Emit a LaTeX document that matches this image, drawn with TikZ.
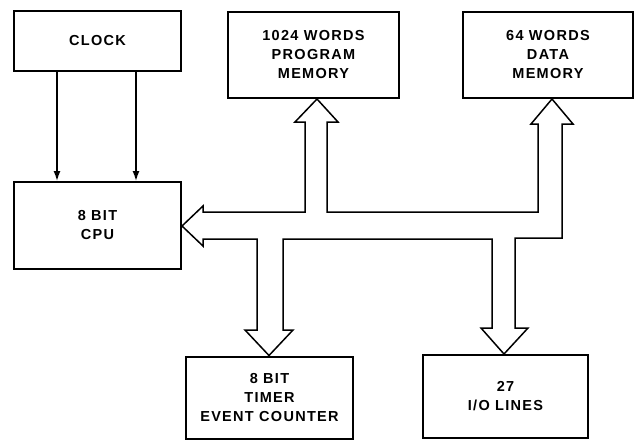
\documentclass[tikz,border=0pt]{standalone}
\usepackage{fontspec}
\setmainfont{Liberation Sans}[LetterSpace=9]
\usetikzlibrary{arrows.meta}
\begin{document}
\begin{tikzpicture}[x=1pt,y=-1pt,
  blk/.style={draw,line width=2pt,rectangle,inner sep=0pt,align=center,
    font=\fontsize{14.5}{19}\selectfont\bfseries},
  clk/.style={line width=1.4pt,-{Latex[length=10pt,width=7pt]}},
  bus/.style={line width=1.5pt,line join=miter}]
\useasboundingbox (0,0) rectangle (641,440);
\node[blk,minimum width=167pt,minimum height=60pt] (clock) at (97.5,41) {CLOCK};
\node[blk,minimum width=171pt,minimum height=86pt] (prog) at (313.5,55) {1024 WORDS\\PROGRAM\\MEMORY};
\node[blk,minimum width=170pt,minimum height=86pt] (data) at (548,55) {64 WORDS\\DATA\\MEMORY};
\node[blk,minimum width=167pt,minimum height=87pt] (cpu) at (97.5,225.5) {8 BIT\\CPU};
\node[blk,minimum width=167pt,minimum height=82pt] (timer) at (269.5,397.5) {8 BIT\\TIMER\\EVENT COUNTER};
\node[blk,minimum width=165pt,minimum height=83pt] (io) at (505.5,396.5) {27\\I/O LINES};
\draw[clk] ([xshift=-40.5pt]clock.south) -- ([xshift=-40.5pt]cpu.north);
\draw[clk] ([xshift=38.5pt]clock.south) -- ([xshift=38.5pt]cpu.north);
% bus outline
\draw[bus] (cpu.east |- 0,226) -- (203,206) -- (203,212) -- (305,212) -- (305,122)
  -- (295,122) -- (prog.south -| 317,0) -- (338,122) -- (327,122) -- (327,212)
  -- (538,212) -- (538,124) -- (531,124) -- (data.south -| 552,0) -- (573,124)
  -- (562,124) -- (562,238) -- (515,238) -- (515,328) -- (528,328)
  -- (io.north -| 504,0) -- (481,328) -- (492,328) -- (492,239) -- (283,239)
  -- (283,330) -- (293,330) -- (timer.north -| 269,0) -- (245,330) -- (257,330)
  -- (257,239) -- (203,239) -- (203,246) -- cycle;
\end{tikzpicture}
\end{document}
